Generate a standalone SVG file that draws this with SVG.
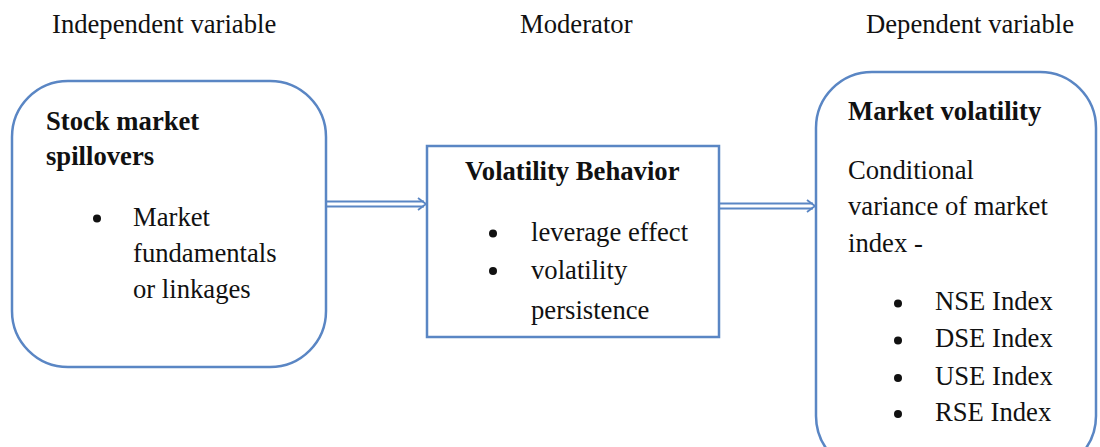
<svg xmlns="http://www.w3.org/2000/svg" width="1100" height="447" viewBox="0 0 1100 447">
<style>
.box{fill:#fff;stroke:#5a86c4;stroke-width:2.5}
.t{font-family:"Liberation Serif","Times New Roman",serif;font-size:26.67px;fill:#111}
.b{font-weight:bold}
.c{stroke:#5a86c4;stroke-width:1.8;fill:none}
.dot{fill:#111}
</style>
<rect width="1100" height="447" fill="#fff"/>
<g id="headers">
<text class="t" x="52" y="33">Independent variable</text>
<text class="t" x="520" y="33">Moderator</text>
<text class="t" x="866" y="33">Dependent variable</text>
</g>
<g id="connectors">
<line class="c" x1="327" y1="201.5" x2="424" y2="201.5"/>
<line class="c" x1="327" y1="206.5" x2="424" y2="206.5"/>
<polyline class="c" points="418,198 426,204 418,210"/>
<line class="c" x1="720" y1="203.5" x2="813" y2="203.5"/>
<line class="c" x1="720" y1="208.5" x2="813" y2="208.5"/>
<polyline class="c" points="807,200 815,206 807,212"/>
</g>
<g id="node-independent">
<rect class="box" x="12" y="81" width="314" height="286" rx="56"/>
<text class="t b" x="46" y="130">Stock market</text>
<text class="t b" x="46" y="165">spillovers</text>
<circle class="dot" cx="97" cy="218.5" r="4"/>
<text class="t" x="133" y="226">Market</text>
<text class="t" x="133" y="262">fundamentals</text>
<text class="t" x="133" y="298">or linkages</text>
</g>
<g id="node-moderator">
<rect class="box" x="427" y="146" width="292" height="191"/>
<text class="t b" x="465" y="180">Volatility Behavior</text>
<circle class="dot" cx="493" cy="233.5" r="4"/>
<text class="t" x="531" y="241">leverage effect</text>
<circle class="dot" cx="493" cy="271" r="4"/>
<text class="t" x="531" y="279">volatility</text>
<text class="t" x="531" y="319">persistence</text>
</g>
<g id="node-dependent">
<rect class="box" x="816" y="72" width="280" height="400" rx="56"/>
<text class="t b" x="848" y="120">Market volatility</text>
<text class="t" x="848" y="179">Conditional</text>
<text class="t" x="848" y="215">variance of market</text>
<text class="t" x="848" y="252">index -</text>
<circle class="dot" cx="898" cy="303.5" r="4"/>
<text class="t" x="935" y="310">NSE Index</text>
<circle class="dot" cx="898" cy="340.5" r="4"/>
<text class="t" x="935" y="347">DSE Index</text>
<circle class="dot" cx="898" cy="378" r="4"/>
<text class="t" x="935" y="385">USE Index</text>
<circle class="dot" cx="898" cy="414" r="4"/>
<text class="t" x="935" y="421">RSE Index</text>
</g>
</svg>
